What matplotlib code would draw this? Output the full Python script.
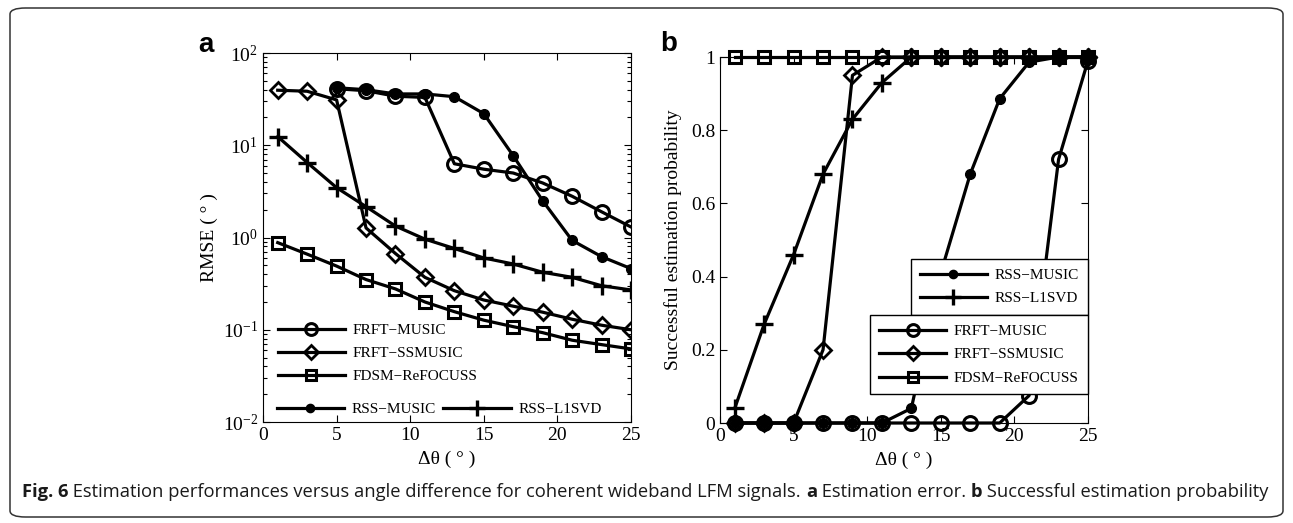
import numpy as np
import matplotlib
matplotlib.use('Agg')
import matplotlib.pyplot as plt
from matplotlib.patches import FancyBboxPatch

# Angle difference (degrees)
dtheta = [1, 3, 5, 7, 9, 11, 13, 15, 17, 19, 21, 23, 25]

# (a) RMSE
rmse_frft_music = [np.nan, np.nan, 41, 39, 34, 33, 6.3, 5.5, 5.0, 3.9, 2.8, 1.9, 1.3]
rmse_frft_ssmusic = [39.5, 38.5, 31, 1.27, 0.67, 0.37, 0.265, 0.21, 0.18, 0.155, 0.13, 0.112, 0.10]
rmse_fdsm = [0.88, 0.66, 0.49, 0.35, 0.277, 0.20, 0.157, 0.127, 0.108, 0.093, 0.077, 0.069, 0.062]
rmse_rss_music = [np.nan, np.nan, 42, 40, 36, 36, 33.6, 22, 7.7, 2.5, 0.93, 0.62, 0.46]
rmse_rss_l1svd = [12.4, 6.5, 3.47, 2.16, 1.33, 0.96, 0.76, 0.60, 0.516, 0.42, 0.37, 0.30, 0.27]

# (b) Successful estimation probability
p_frft_music = [0, 0, 0, 0, 0, 0, 0, 0, 0, 0, 0.075, 0.72, 0.99]
p_frft_ssmusic = [0, 0, 0, 0.2, 0.95, 1, 1, 1, 1, 1, 1, 1, 1]
p_fdsm = [1, 1, 1, 1, 1, 1, 1, 1, 1, 1, 1, 1, 1]
p_rss_music = [0, 0, 0, 0, 0, 0, 0.04, 0.41, 0.68, 0.886, 0.986, 1, 1]
p_rss_l1svd = [0.04, 0.27, 0.46, 0.68, 0.83, 0.93, 1, 1, 1, 1, 1, 1, 1]

plt.rcParams['font.family'] = ['Liberation Serif', 'DejaVu Serif']
plt.rcParams['mathtext.fontset'] = 'stix'
plt.rcParams['xtick.direction'] = 'in'
plt.rcParams['ytick.direction'] = 'in'

W, H = 1293, 523
fig = plt.figure(figsize=(W / 100, H / 100), dpi=100)


def fx(x):
    return x / W


def fy(y):
    return 1 - y / H


lw = 2.3
st_circle = dict(marker='o', ms=10, mfc='none', mew=2.2, color='k', lw=lw)
st_diamond = dict(marker='D', ms=8.5, mfc='none', mew=2.0, color='k', lw=lw)
st_square = dict(marker='s', ms=9, mfc='none', mew=2.2, color='k', lw=lw)
st_dot = dict(marker='o', ms=7, mfc='k', mew=1, color='k', lw=lw)
st_plus = dict(marker='+', ms=13, mew=2.4, color='k', lw=lw)

leg_kw = dict(fontsize=11, handlelength=4.4, handletextpad=0.5, numpoints=1,
              markerscale=0.85)

# ---------------- panel a ----------------
axa = fig.add_axes([fx(263), fy(422), fx(631) - fx(263), fy(53) - fy(422)])
la1, = axa.semilogy(dtheta, rmse_frft_music, label='FRFT\u2212MUSIC', **st_circle)
la2, = axa.semilogy(dtheta, rmse_frft_ssmusic, label='FRFT\u2212SSMUSIC', **st_diamond)
la3, = axa.semilogy(dtheta, rmse_fdsm, label='FDSM\u2212ReFOCUSS', **st_square)
la4, = axa.semilogy(dtheta, rmse_rss_music, label='RSS\u2212MUSIC', **st_dot)
la5, = axa.semilogy(dtheta, rmse_rss_l1svd, label='RSS\u2212L1SVD', **st_plus)
axa.set_xlim(0, 25)
axa.set_ylim(1e-2, 1e2)
axa.set_xticks([0, 5, 10, 15, 20, 25])
axa.tick_params(which='both', top=True, right=True, labelsize=14, width=0.8)
axa.tick_params(which='major', length=5)
axa.tick_params(which='minor', length=3)
axa.set_xlabel('\u0394\u03b8 ( \u00b0 )', fontsize=14, labelpad=5)
axa.set_ylabel('RMSE ( \u00b0 )', fontsize=14, labelpad=3)

lg1 = axa.legend(handles=[la1, la2, la3], frameon=False, loc='upper left',
                 bbox_to_anchor=(fx(270), fy(316)), bbox_transform=fig.transFigure,
                 borderpad=0, labelspacing=0.6, **leg_kw)
axa.add_artist(lg1)
axa.legend(handles=[la4, la5], frameon=False, loc='upper left', ncol=2,
           bbox_to_anchor=(fx(269), fy(395)), bbox_transform=fig.transFigure,
           borderpad=0, columnspacing=0.5, **leg_kw)

# ---------------- panel b ----------------
axb = fig.add_axes([fx(720), fy(423), fx(1088) - fx(720), fy(57) - fy(423)])
lb1, = axb.plot(dtheta, p_frft_music, label='FRFT\u2212MUSIC', **st_circle)
lb2, = axb.plot(dtheta, p_frft_ssmusic, label='FRFT\u2212SSMUSIC', **st_diamond)
lb3, = axb.plot(dtheta, p_fdsm, label='FDSM\u2212ReFOCUSS', **st_square)
lb4, = axb.plot(dtheta, p_rss_music, label='RSS\u2212MUSIC', **st_dot)
lb5, = axb.plot(dtheta, p_rss_l1svd, label='RSS\u2212L1SVD', **st_plus)
for ln in (lb1, lb2, lb3, lb4, lb5):
    ln.set_clip_on(False)
axb.set_xlim(0, 25)
axb.set_ylim(0, 1)
axb.set_xticks([0, 5, 10, 15, 20, 25])
axb.set_yticks([0, 0.2, 0.4, 0.6, 0.8, 1])
axb.set_yticklabels(['0', '0.2', '0.4', '0.6', '0.8', '1'])
axb.tick_params(which='both', top=True, right=True, labelsize=14, width=0.8, length=5)
axb.set_xlabel('\u0394\u03b8 ( \u00b0 )', fontsize=14, labelpad=5)
axb.set_ylabel('Successful estimation probability', fontsize=14, labelpad=6)

frame_kw = dict(fancybox=False, edgecolor='k', framealpha=1, borderpad=0.6,
                borderaxespad=0, labelspacing=0.65)
lgb1 = axb.legend(handles=[lb4, lb5], loc='upper right',
                  bbox_to_anchor=(fx(1088), fy(259)), bbox_transform=fig.transFigure,
                  **frame_kw, **leg_kw)
lgb1.get_frame().set_linewidth(1)
axb.add_artist(lgb1)
lgb2 = axb.legend(handles=[lb1, lb2, lb3], loc='upper right',
                  bbox_to_anchor=(fx(1088), fy(315)), bbox_transform=fig.transFigure,
                  **frame_kw, **leg_kw)
lgb2.get_frame().set_linewidth(1)

# panel letters
fig.text(fx(198), fy(52), 'a', fontsize=20, fontweight='bold',
         family='Liberation Sans', va='baseline', ha='left')
fig.text(fx(660), fy(51), 'b', fontsize=20, fontweight='bold',
         family='Liberation Sans', va='baseline', ha='left')

# rounded border
fig.patches.append(FancyBboxPatch((fx(10), fy(517)), fx(1283) - fx(10), fy(8) - fy(517),
                                  boxstyle='round,pad=0,rounding_size=0.012',
                                  transform=fig.transFigure, fill=False,
                                  edgecolor='#333333', lw=1.1))

# caption with mixed bold parts
parts = [('Fig. 6', 'bold'),
         (' Estimation performances versus angle difference for coherent wideband LFM signals. ', 'normal'),
         ('a', 'bold'), (' Estimation error. ', 'normal'),
         ('b', 'bold'), (' Successful estimation probability', 'normal')]
renderer = fig.canvas.get_renderer()
xpos = 22
for txt, wt in parts:
    t = fig.text(fx(xpos), fy(497), txt, fontsize=13.2, fontweight=wt,
                 family='Open Sans', va='baseline', ha='left', color='#1a1a1a')
    bb = t.get_window_extent(renderer)
    xpos += bb.width

fig.savefig('out.png', dpi=100)
